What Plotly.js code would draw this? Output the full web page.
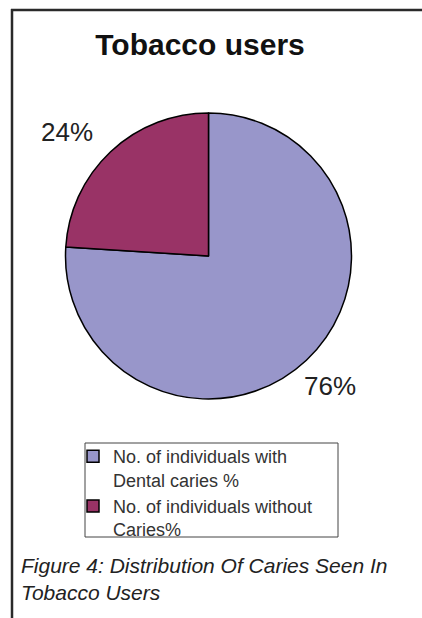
<!DOCTYPE html>
<html>
<head>
<meta charset="utf-8">
<script src="https://cdn.plot.ly/plotly-3.0.1.min.js"></script>
<style>
  html, body { margin: 0; padding: 0; background: #ffffff; }
  #chart { width: 422px; height: 618px; }
</style>
</head>
<body>
<div id="chart"></div>
<script>
// ---- data ----
const chartTitle = "Tobacco users";
const categories = [
  "No. of individuals with<br>Dental caries %",
  "No. of individuals without<br>Caries%"
];
const values = [76, 24];
const sliceColors = ["#9896CA", "#993366"];
const caption = "Figure 4: Distribution Of Caries Seen In<br>Tobacco Users";

// ---- layout geometry (pixels) ----
const W = 422, H = 618;
const cx = 208.5, cy = 256, R = 143;   // pie centre and radius in px

const px = x => x / W;
const py = y => 1 - y / H;

// percentage labels placed just outside each slice, from the data
const total = values.reduce((a, b) => a + b, 0);
const labelAnn = [];
let cum = 0;
values.forEach((v, i) => {
  const mid = (cum + v / 2) / total * 2 * Math.PI; // clockwise from top
  cum += v;
  const dx = Math.sin(mid), dy = -Math.cos(mid);
  const d = R * 1.06;
  labelAnn.push({
    text: Math.round(v / total * 100) + "%",
    xref: "paper", yref: "paper",
    x: px(cx + d * dx - 10), y: py(cy + d * dy + 3),
    xanchor: dx < 0 ? "right" : "left",
    yanchor: dy < 0 ? "bottom" : "top",
    showarrow: false,
    font: { family: "Arial, 'Liberation Sans', sans-serif", size: 26, color: "#222222" }
  });
});

const data = [{
  type: "pie",
  labels: categories,
  values: values,
  sort: false,
  direction: "clockwise",
  rotation: 0,
  textinfo: "none",
  hoverinfo: "label+percent",
  marker: { colors: sliceColors, line: { color: "#000000", width: 1.5 } },
  domain: { x: [px(cx - R), px(cx + R)], y: [py(cy + R), py(cy - R)] }
}];

const layout = {
  width: W, height: H,
  margin: { l: 0, r: 0, t: 0, b: 0 },
  paper_bgcolor: "#ffffff",
  plot_bgcolor: "#ffffff",
  title: {
    text: "<b>" + chartTitle + "</b>",
    x: px(200), xanchor: "center", xref: "paper",
    y: py(44), yanchor: "middle", yref: "paper",
    font: { family: "Arial, 'Liberation Sans', sans-serif", size: 30, color: "#111111" }
  },
  showlegend: true,
  legend: {
    x: px(73), xanchor: "left",
    y: py(438), yanchor: "top",
    bgcolor: "rgba(0,0,0,0)",
    borderwidth: 0,
    valign: "top",
    font: { family: "Arial, 'Liberation Sans', sans-serif", size: 18, color: "#333333" }
  },
  annotations: labelAnn.concat([{
    text: "<i>" + caption + "</i>",
    xref: "paper", yref: "paper",
    x: px(19), xanchor: "left",
    y: py(552), yanchor: "top",
    align: "left",
    showarrow: false,
    font: { family: "Arial, 'Liberation Sans', sans-serif", size: 21, color: "#222222" }
  }]),
  shapes: [
    // outer frame (left and top edges)
    { type: "line", xref: "paper", yref: "paper", x0: px(12), x1: px(12), y0: py(9), y1: 0,
      line: { color: "#2a2a2a", width: 2.5 } },
    { type: "line", xref: "paper", yref: "paper", x0: px(11), x1: 1, y0: py(10), y1: py(10),
      line: { color: "#2a2a2a", width: 2.5 } },
    // legend frame
    { type: "rect", xref: "paper", yref: "paper", x0: px(85), x1: px(338), y0: py(443), y1: py(537),
      line: { color: "#444444", width: 1 }, fillcolor: "rgba(0,0,0,0)" }
  ]
};

Plotly.newPlot("chart", data, layout, { displayModeBar: false, staticPlot: true });
</script>
</body>
</html>
